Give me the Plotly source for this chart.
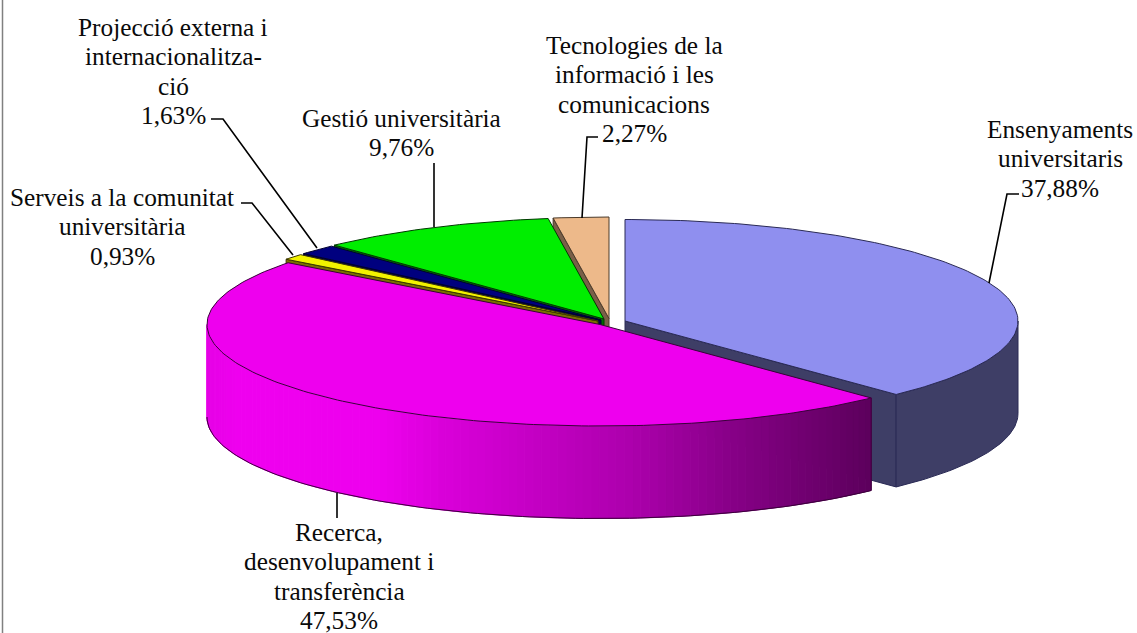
import numpy as np
import plotly.graph_objects as go

# ---- data -------------------------------------------------------------
categories = ["Ensenyaments universitaris", "Recerca, desenvolupament i transferència",
              "Serveis a la comunitat universitària", "Projecció externa i internacionalització",
              "Gestió universitària", "Tecnologies de la informació i les comunicacions"]
values = [37.88, 47.53, 0.93, 1.63, 9.76, 2.27]
label_lines = [
    ["Ensenyaments", "universitaris", "37,88%"],
    ["Recerca,", "desenvolupament i", "transferència", "47,53%"],
    ["Serveis a la comunitat", "universitària", "0,93%"],
    ["Projecció externa i", "internacionalitza-", "ció", "1,63%"],
    ["Gestió universitària", "9,76%"],
    ["Tecnologies de la", "informació i les", "comunicacions", "2,27%"],
]

# ---- styles and layout ------------------------------------------------
top_colors = ["#8F8FEF", "#EE00EE", "#F2F200", "#00007F", "#00EE00", "#EDB98A"]
side_colors = ["#3E3E66", "#5F005F", "#7A7000", "#00004A", "#006A00", "#7A5F48"]
edge_colors = ["#2A2A55", "#3A003A", "#3A3500", "#000030", "#003A00", "#4A3A2A"]
centers = [(625, 321), (600, 324.5), (598, 321), (601, 320), (604, 319), (609, 318.5)]
RX, RY, DEPTH = 393, 101.5, 92.5
draw_order = [5, 4, 3, 2, 0, 1]
label_xs = [1060, 339, 122, 173, 401, 634]
label_first_ys = [129, 532, 197, 27, 118, 45]
LINE_H = 29.3
FONT = dict(family="Liberation Serif, Times New Roman, serif", size=25.3, color="#0A0A0A")
leaders = [
    [(1019, 194), (1007, 194), (989, 283)],
    [(337, 493), (337, 518)],
    [(241, 203), (252, 203), (293, 255)],
    [(211, 119), (223, 119), (317, 248)],
    [(434, 163), (434, 227)],
    [(598, 137), (587, 137), (582, 218)],
]
# Gradient along the front wall of the largest slice: x position, magenta level
grad_x = [207, 240, 380, 440, 500, 633, 733, 833, 872]
grad_level = [230, 240, 238, 218, 205, 172, 135, 104, 92]

# ---- geometry computed from the values -------------------------------
cum = np.concatenate([[0], np.cumsum(values)]) / np.sum(values) * 2 * np.pi
starts, ends = cum[:-1], cum[1:]


def pt(i, t, dz=0.0):
    cx, cy = centers[i]
    return cx + RX * np.sin(t), cy - RY * np.cos(t) + dz


def poly(xs, ys, fill, line, width=1.0):
    return go.Scatter(x=np.r_[xs, xs[0]], y=np.r_[ys, ys[0]], mode="lines", fill="toself",
                      fillcolor=fill, line=dict(color=line, width=width),
                      hoverinfo="skip", showlegend=False)


fig = go.Figure()
for i in draw_order:
    cx, cy = centers[i]
    t0, t1 = starts[i], ends[i]
    # cut face
    if i != 1:
        cut = t1 if i == 0 else t0
        ox, oy = pt(i, cut)
        fig.add_trace(poly([cx, ox, ox, cx], [cy, oy, oy + DEPTH, cy + DEPTH],
                           side_colors[i], edge_colors[i]))
    # outer wall
    if i == 0:
        t = np.linspace(np.pi / 2, t1, 60)
        x, y = pt(i, t)
        fig.add_trace(poly(np.r_[x, x[::-1]], np.r_[y, (y + DEPTH)[::-1]],
                           side_colors[i], edge_colors[i]))
    if i == 1:
        edges = np.linspace(t0, 1.5 * np.pi, 111)
        for a, b in zip(edges[:-1], edges[1:]):
            t = np.linspace(a, b, 4)
            x, y = pt(i, t)
            lvl = int(np.interp(x.mean(), grad_x, grad_level))
            c = f"rgb({lvl},0,{lvl})"
            fig.add_trace(poly(np.r_[x, x[::-1]], np.r_[y, (y + DEPTH)[::-1]], c, c, 1.0))
        t = np.linspace(t0, 1.5 * np.pi, 120)
        x, y = pt(i, t)
        # outline of the wall
        fig.add_trace(go.Scatter(x=np.r_[x[0], x[0], x + 0], y=np.r_[y[0], y[0] + DEPTH, y + DEPTH],
                                 mode="lines", line=dict(color=edge_colors[i], width=1),
                                 hoverinfo="skip", showlegend=False))
    # top face
    t = np.linspace(t0, t1, max(8, int(np.degrees(t1 - t0))))
    x, y = pt(i, t)
    fig.add_trace(poly(np.r_[cx, x], np.r_[cy, y], top_colors[i], edge_colors[i]))

# ---- leaders and labels ------------------------------------------------
for path in leaders:
    px, py = zip(*path)
    fig.add_trace(go.Scatter(x=px, y=py, mode="lines", line=dict(color="#000000", width=1.6),
                             hoverinfo="skip", showlegend=False))

for lines, lx, ly in zip(label_lines, label_xs, label_first_ys):
    for k, text in enumerate(lines):
        fig.add_annotation(x=lx, y=ly + k * LINE_H, text=text, showarrow=False,
                           xanchor="center", yanchor="middle", font=FONT)

fig.add_shape(type="line", x0=2.5, x1=2.5, y0=0, y1=633, line=dict(color="#808080", width=1.5))

fig.update_layout(width=1137, height=633, margin=dict(l=0, r=0, t=0, b=0),
                  paper_bgcolor="white", plot_bgcolor="white", showlegend=False,
                  xaxis=dict(range=[0, 1137], visible=False, fixedrange=True),
                  yaxis=dict(range=[633, 0], visible=False, fixedrange=True))
fig.write_html("out.html", config=dict(displayModeBar=False),
               post_script="document.body.style.margin='0';document.documentElement.style.overflow='hidden';")
